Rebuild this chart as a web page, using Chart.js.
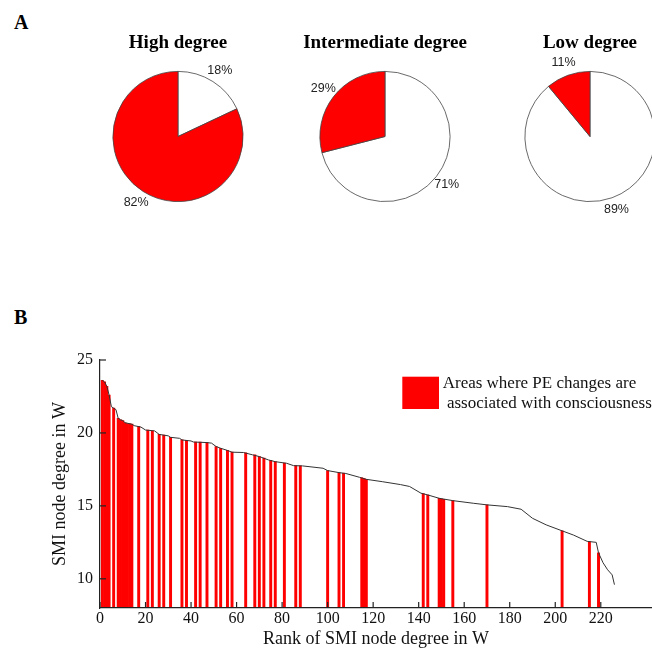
<!DOCTYPE html>
<html><head><meta charset="utf-8">
<script src="https://cdn.jsdelivr.net/npm/chart.js@4.4.1/dist/chart.umd.min.js"></script>
<style>
html,body{margin:0;padding:0;width:652px;height:659px;overflow:hidden;background:#fff;}
.abs{position:absolute;}
.panel{font-family:"Liberation Serif","Times New Roman",serif;font-weight:bold;font-size:20px;line-height:20px;color:#000;}
</style></head><body>
<div class="abs panel" style="left:14px;top:11.5px">A</div>
<div class="abs panel" style="left:14px;top:306.5px">B</div>
<canvas id="pie0" class="abs" width="200" height="202" style="left:78px;top:20px"></canvas>
<canvas id="pie1" class="abs" width="200" height="202" style="left:284.5px;top:20px"></canvas>
<canvas id="pie2" class="abs" width="200" height="202" style="left:490.4px;top:20px"></canvas>
<canvas id="rank" class="abs" width="652" height="329" style="left:0;top:330px"></canvas>
<script>
// ---------- Panel A data ----------
const pieTitles = ['High degree', 'Intermediate degree', 'Low degree'];
const pieOtherPct = [18, 71, 89];   // white slices
const piePePct = [82, 29, 11];      // red slices

// ---------- Panel B data ----------
const curveRank = [1,2,3,4,5,6,7,8,9,10,11,14,15,18,20,24,26,30,31,35,36,40,41,47,49,51,53,56,58,63,67,70,74,77,82,85,89,98,100,105,108,114,117,124,132,136,141,144,149,155,164,170,179,185,190,196,203,208,214,218,219,221,223,225,226];
const curveDegree = [23.6,23.5,23.2,22.6,21.8,21.7,21.6,21.0,20.9,20.85,20.7,20.6,20.5,20.4,20.2,20.14,19.9,19.8,19.7,19.63,19.52,19.45,19.38,19.34,19.3,19.07,18.95,18.8,18.68,18.66,18.5,18.38,18.15,18.03,17.92,17.76,17.74,17.58,17.42,17.28,17.22,16.96,16.82,16.66,16.46,16.33,15.87,15.75,15.52,15.36,15.18,15.07,14.95,14.77,14.15,13.7,13.29,13.0,12.57,12.5,11.78,11.1,10.62,10.27,9.6];
const peRank = [1,2,3,4,6,8,9,10,11,12,13,14,17,21,23,26,28,31,36,38,42,44,47,51,53,56,58,64,68,70,72,75,77,81,86,88,100,105,107,115,116,117,142,144,149,150,151,155,170,203,215,219];
const peDegree = [23.6,23.5,23.2,22.6,21.7,21.0,20.9,20.85,20.7,20.65,20.63,20.6,20.45,20.2,20.15,19.9,19.85,19.7,19.52,19.49,19.38,19.37,19.34,19.07,18.95,18.8,18.68,18.64,18.5,18.38,18.27,18.12,18.03,17.93,17.76,17.75,17.42,17.28,17.24,16.93,16.88,16.82,15.84,15.75,15.52,15.48,15.45,15.36,15.07,13.29,12.55,11.78];
const yTickValues = [10, 15, 20, 25];
const xTickLast = 220;
const legendLines = ['Areas where PE changes are', ' associated with consciousness'];

const RED = '#ff0000';
const SERIF = '"Liberation Serif","Times New Roman",serif';

// ---------- Pies ----------
const pieLabelPlugin = {
  id: 'pieLabels',
  afterDatasetsDraw(chart) {
    const ctx = chart.ctx;
    const meta = chart.getDatasetMeta(0);
    const vals = chart.data.datasets[0].data;
    ctx.save();
    ctx.font = '12.5px "Liberation Sans", Arial, sans-serif';
    ctx.fillStyle = '#222';
    ctx.textAlign = 'center';
    ctx.textBaseline = 'middle';
    meta.data.forEach((arc, i) => {
      const p = arc.getProps(['x','y','startAngle','endAngle','outerRadius'], true);
      const mid = (p.startAngle + p.endAngle) / 2;
      const d = p.outerRadius * 1.2;
      ctx.fillText(vals[i] + '%', p.x + Math.cos(mid) * d, p.y + Math.sin(mid) * d);
    });
    ctx.restore();
  }
};

pieTitles.forEach((t, i) => {
  new Chart(document.getElementById('pie' + i), {
    type: 'pie',
    data: {
      labels: ['Other', 'PE'],
      datasets: [{
        data: [pieOtherPct[i], piePePct[i]],
        backgroundColor: ['#ffffff', RED],
        borderColor: '#444',
        borderWidth: 0.8,
        hoverOffset: 0
      }]
    },
    options: {
      responsive: false,
      animation: false,
      layout: { padding: { top: 0, left: 0, right: 0, bottom: 20 } },
      plugins: {
        legend: { display: false },
        tooltip: { enabled: false },
        title: {
          display: true, text: t, color: '#000',
          font: { family: SERIF, size: 19, weight: 'bold' },
          padding: { top: 11.7, bottom: 16.5 }
        }
      }
    },
    plugins: [pieLabelPlugin]
  });
});

// ---------- Rank plot ----------
const inwardTicks = {
  id: 'inwardTicks',
  afterDatasetsDraw(chart) {
    const { ctx, chartArea: { left, bottom }, scales: { x, y } } = chart;
    ctx.save();
    ctx.strokeStyle = '#222';
    ctx.lineWidth = 1.2;
    x.ticks.forEach(t => {
      const p = x.getPixelForValue(t.value);
      ctx.beginPath(); ctx.moveTo(p, bottom); ctx.lineTo(p, bottom - 6); ctx.stroke();
    });
    y.ticks.forEach(t => {
      const p = y.getPixelForValue(t.value);
      ctx.beginPath(); ctx.moveTo(left, p); ctx.lineTo(left + 6, p); ctx.stroke();
    });
    ctx.restore();
  }
};

const peLegend = {
  id: 'peLegend',
  afterDraw(chart) {
    const ctx = chart.ctx;
    const ds = chart.data.datasets[1];
    ctx.save();
    ctx.fillStyle = ds.backgroundColor;
    ctx.fillRect(402.3, 46.7, 36.7, 32.3);
    ctx.fillStyle = '#111';
    ctx.font = '17px ' + SERIF;
    ctx.textBaseline = 'middle';
    ctx.textAlign = 'left';
    ctx.fillText(legendLines[0], 442.7, 53.3);
    ctx.fillText(legendLines[1], 442.7, 73.3);
    ctx.restore();
  }
};

new Chart(document.getElementById('rank'), {
  type: 'bar',
  data: {
    datasets: [
      {
        type: 'line',
        label: 'SMI node degree',
        data: curveRank.map((r, i) => ({ x: r, y: curveDegree[i] })),
        borderColor: '#333',
        borderWidth: 1,
        pointRadius: 0,
        tension: 0,
        fill: false,
        order: 0
      },
      {
        type: 'bar',
        label: legendLines.join(''),
        data: peRank.map((r, i) => ({ x: r, y: peDegree[i] })),
        backgroundColor: RED,
        borderWidth: 0,
        barPercentage: 1,
        categoryPercentage: 1,
        order: 1
      }
    ]
  },
  options: {
    responsive: false,
    animation: false,
    layout: { padding: { top: 30, left: 0, right: 0, bottom: 0 } },
    plugins: { legend: { display: false }, tooltip: { enabled: false } },
    scales: {
      x: {
        type: 'linear', min: 0, max: 242.5, offset: false,
        grid: { display: false, drawTicks: false },
        border: { display: true, color: '#222', width: 1.2, z: 1 },
        ticks: { stepSize: 20, padding: 1, color: '#111', maxRotation: 0, font: { family: SERIF, size: 16 } },
        afterBuildTicks: s => { s.ticks = s.ticks.filter(t => t.value <= xTickLast); },
        afterFit: s => { s.height = 51; },
        title: { display: true, text: 'Rank of SMI node degree in W', color: '#111',
                 font: { family: SERIF, size: 18 }, padding: { top: 0, bottom: 9 } }
      },
      y: {
        type: 'linear', min: 8, max: 25,
        grid: { display: false, drawTicks: false },
        border: { display: true, color: '#222', width: 1.2, z: 1 },
        ticks: { padding: 7, color: '#111', font: { family: SERIF, size: 16 } },
        afterBuildTicks: s => { s.ticks = yTickValues.map(v => ({ value: v })); },
        afterFit: s => { s.width = 100; },
        title: { display: true, text: 'SMI node degree in W', color: '#111',
                 font: { family: SERIF, size: 18 }, padding: { top: 49, bottom: 0 } }
      }
    }
  },
  plugins: [inwardTicks, peLegend]
});
</script>
</body></html>
